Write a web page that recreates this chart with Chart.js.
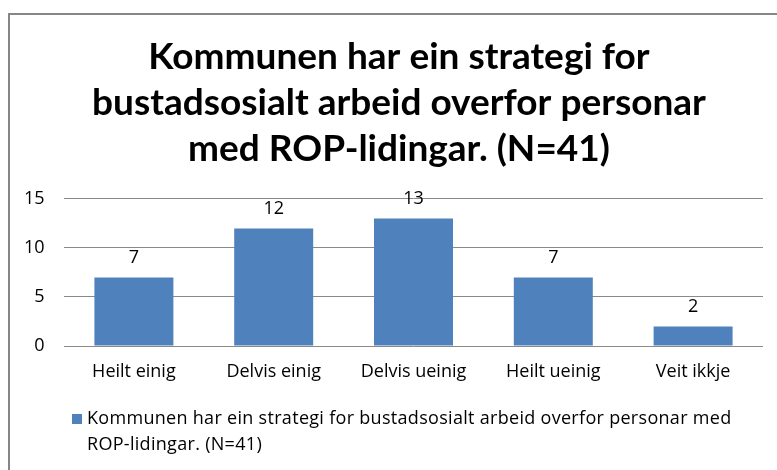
<!DOCTYPE html>
<html>
<head>
<meta charset="utf-8">
<script src="https://cdn.jsdelivr.net/npm/chart.js@4"></script>
<style>
  body { margin: 0; background: #fff; overflow: hidden; }
  #wrap { position: relative; width: 777px; height: 470px; }
  #frame { position: absolute; left: 8px; top: 13px; width: 820px; height: 520px; border: 2px solid #868686; }
  #legend { position: absolute; left: 72px; top: 404px; width: 655px; padding-left: 15px; text-indent: -15px; font: 18px "Open Sans", sans-serif; color: #000; line-height: 26px; letter-spacing: 0.3px; }
  #legend .box { display: inline-block; width: 10px; height: 10px; background: #4F81BD; margin-right: 5px; }
</style>
</head>
<body>
<div id="wrap">
  <div id="frame"></div>
  <canvas id="chart" width="777" height="470"></canvas>
  <div id="legend"></div>
</div>
<script>
// Data
let categories = ["Heilt einig", "Delvis einig", "Delvis ueinig", "Heilt ueinig", "Veit ikkje"];
let values = [7, 12, 13, 7, 2];
let seriesName = "Kommunen har ein strategi for bustadsosialt arbeid overfor personar med ROP-lidingar. (N=41)";
let titleLines = ["Kommunen har ein strategi for", "bustadsosialt arbeid overfor personar", "med ROP-lidingar. (N=41)"];
let yTicks = [0, 5, 10, 15];

let barColor = "#4F81BD";

// labels over the bars
let valueLabels = {
    id: "valueLabels",
    afterDatasetsDraw(chart) {
        let ctx = chart.ctx;
        let meta = chart.getDatasetMeta(0);
        ctx.save();
        ctx.font = "18px 'Open Sans'";
        ctx.fillStyle = "#000";
        ctx.textAlign = "center";
        ctx.textBaseline = "middle";
        meta.data.forEach((bar, i) => {
            ctx.fillText(values[i], bar.x, bar.y - 20);
        });
        ctx.restore();
    }
};

new Chart(document.getElementById("chart"), {
    type: "bar",
    data: {
        labels: categories,
        datasets: [{
            label: seriesName,
            data: values,
            backgroundColor: barColor,
            categoryPercentage: 1,
            barPercentage: 0.565
        }]
    },
    options: {
        responsive: false,
        animation: false,
        // extra left padding moves the title centre to the right, like the original
        layout: { padding: { left: 35, right: 14, top: 0, bottom: 74 } },
        plugins: {
            legend: { display: false },
            tooltip: { enabled: false },
            title: {
                display: true,
                text: titleLines,
                color: "#000",
                font: { family: "Lato", size: 37, weight: "bold", lineHeight: 1.243 },
                padding: { top: 34, bottom: 27 }
            }
        },
        scales: {
            x: {
                grid: { display: false },
                border: { display: false },
                ticks: { color: "#000", font: { family: "Open Sans", size: 18 }, padding: 7, maxRotation: 0 },
                afterFit(scale) { scale.height = 50; }
            },
            y: {
                min: 0,
                max: 15,
                afterBuildTicks(scale) { scale.ticks = yTicks.map(v => ({ value: v })); },
                grid: { color: "#8a8a8a", drawTicks: false, lineWidth: 1 },
                border: { display: false },
                // mirrored so the labels are not clipped to the narrow scale box
                ticks: { color: "#000", font: { family: "Open Sans", size: 18 }, mirror: true, crossAlign: "far", padding: -40 },
                afterFit(scale) { scale.width = 29; }
            }
        }
    },
    plugins: [valueLabels]
});

document.getElementById("legend").innerHTML =
    '<span class="box"></span>' + seriesName;
</script>
</body>
</html>
